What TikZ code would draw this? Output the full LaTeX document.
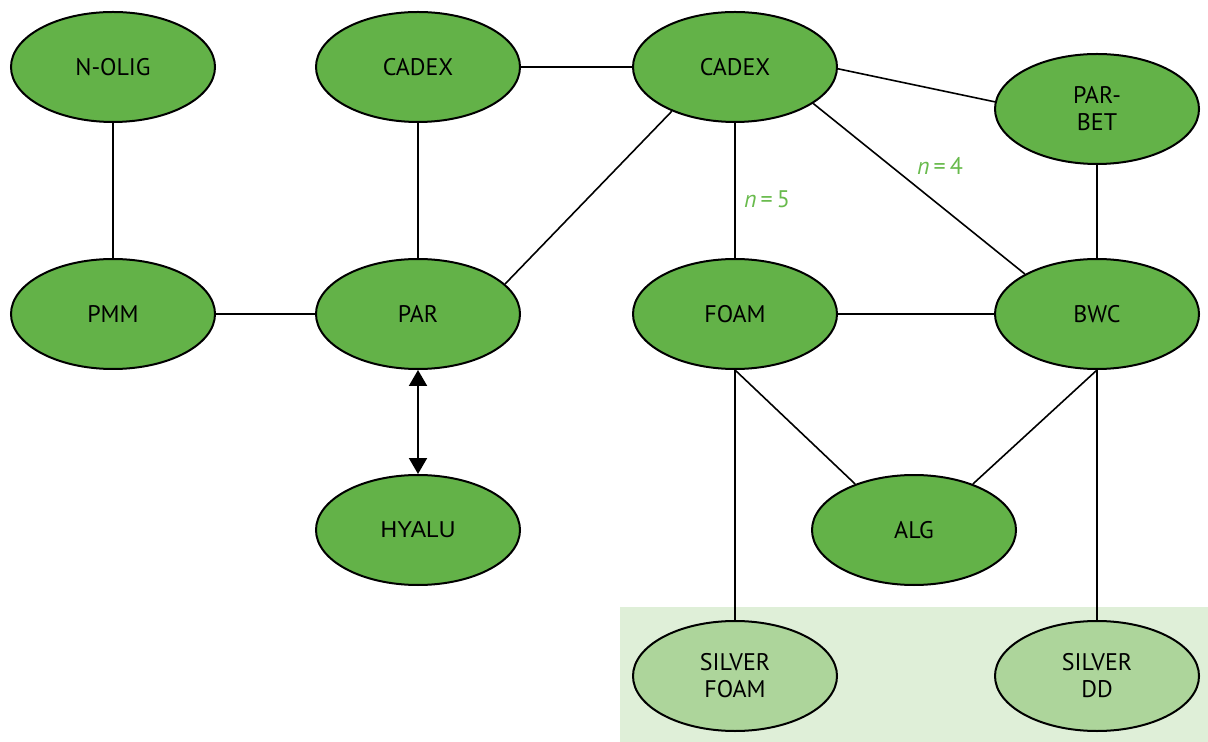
\documentclass[tikz,border=0pt]{standalone}
\usepackage{fontspec}
\setmainfont{PT Sans}
\newfontfamily\arialfont{Liberation Sans}
\usetikzlibrary{shapes.geometric,arrows.meta}
\definecolor{nodegreen}{RGB}{99,178,72}
\definecolor{lightnode}{RGB}{173,213,155}
\definecolor{bgpanel}{RGB}{223,239,216}
\definecolor{lblgreen}{RGB}{104,186,76}
\tikzset{
  ell/.style={ellipse, draw=black, line width=1pt, fill=nodegreen, minimum width=102pt, minimum height=55pt, inner sep=0pt, align=center, font=\fontsize{12}{13.5}\selectfont},
  lightell/.style={ell, fill=lightnode},
  link/.style={line width=0.8pt, draw=black},
  lbl/.style={text=lblgreen, font=\fontsize{12}{13.5}\selectfont},
}
\begin{document}
\begin{tikzpicture}[x=0.5pt,y=-0.5pt]
\useasboundingbox (0,0) rectangle (1208,742);
\fill[bgpanel] (620,607) rectangle (1208,742);
\node[ell] (nolig) at (113,67) {N-OLIG};
\node[ell] (cadexa) at (418,67) {CADEX};
\node[ell] (cadexb) at (735,67) {CADEX};
\node[ell] (parbet) at (1097,109) {PAR-\\BET};
\node[ell] (pmm) at (113,314) {PMM};
\node[ell] (par) at (418,314) {PAR};
\node[ell] (foam) at (735,314) {FOAM};
\node[ell] (bwc) at (1097,314) {BWC};
\node[ell, font=\arialfont\fontsize{11.5}{13}\selectfont] (hyalu) at (418,530) {HYALU};
\node[ell] (alg) at (914,530) {ALG};
\node[lightell] (sfoam) at (735,676) {SILVER\\FOAM};
\node[lightell] (sdd) at (1097,676) {SILVER\\DD};
\draw[link] (nolig) -- (pmm);
\draw[link] (cadexa) -- (par);
\draw[link] (cadexa) -- (cadexb);
\draw[link] (cadexb.-1) -- (parbet.176);
\draw[link] (par.19) -- (cadexb.215);
\draw[link] (pmm) -- (par);
\draw[line width=1pt, {Triangle[length=8pt,width=9pt]}-{Triangle[length=8pt,width=9pt]}] (par) -- (hyalu);
\draw[link] (cadexb) -- (foam);
\node[lbl] (nfive) at (767,199) {\textit{n}\,=\,5};
\draw[link] (cadexb.-25) -- (bwc.151);
\node[lbl] (nfour) at (940,166) {\textit{n}\,=\,4};
\draw[link] (parbet) -- (bwc);
\draw[link] (foam) -- (bwc);
\draw[link] (foam.south) -- (alg.142);
\draw[link] (bwc.south) -- (alg.38);
\draw[link] (foam) -- (sfoam);
\draw[link] (bwc) -- (sdd);
\end{tikzpicture}
\end{document}
